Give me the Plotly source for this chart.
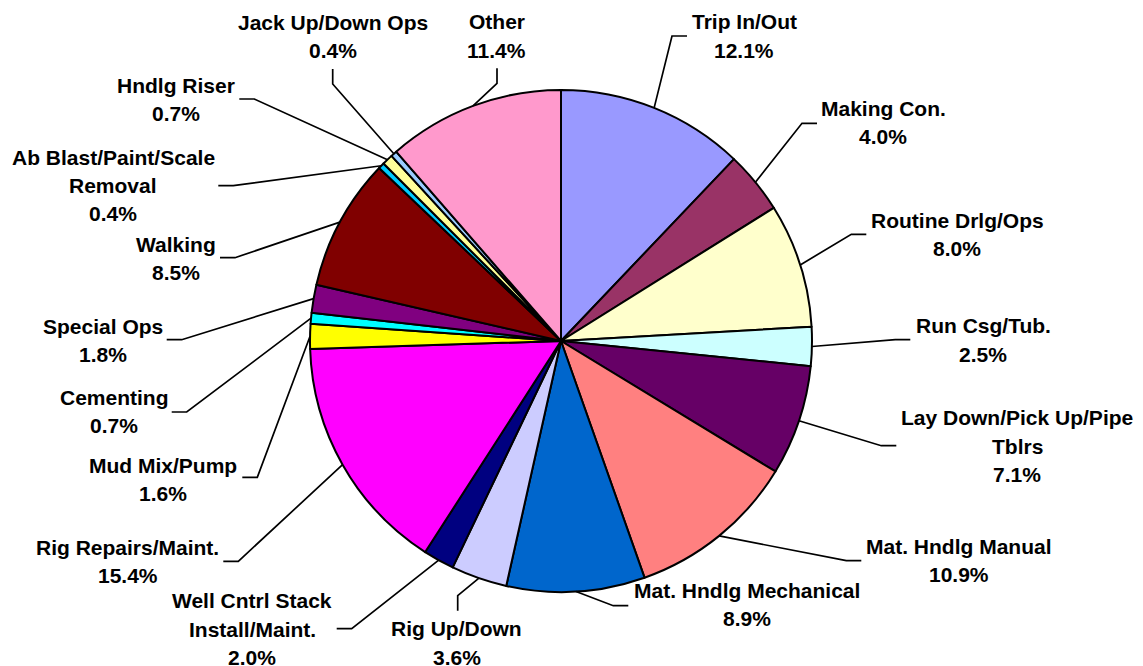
import math
import plotly.graph_objects as go

# ---------------- data ----------------
categories = [
    "Trip In/Out", "Making Con.", "Routine Drlg/Ops", "Run Csg/Tub.",
    "Lay Down/Pick Up/Pipe Tblrs", "Mat. Hndlg Manual", "Mat. Hndlg Mechanical",
    "Rig Up/Down", "Well Cntrl Stack Install/Maint.", "Rig Repairs/Maint.",
    "Mud Mix/Pump", "Cementing", "Special Ops", "Walking",
    "Ab Blast/Paint/Scale Removal", "Hndlg Riser", "Jack Up/Down Ops", "Other",
]
values = [12.1, 4.0, 8.0, 2.5, 7.1, 10.9, 8.9, 3.6, 2.0, 15.4,
          1.6, 0.7, 1.8, 8.5, 0.4, 0.7, 0.4, 11.4]
label_lines = [
    ["Trip In/Out"], ["Making Con."], ["Routine Drlg/Ops"], ["Run Csg/Tub."],
    ["Lay Down/Pick Up/Pipe", "Tblrs"], ["Mat. Hndlg Manual"], ["Mat. Hndlg Mechanical"],
    ["Rig Up/Down"], ["Well Cntrl Stack", "Install/Maint."], ["Rig Repairs/Maint."],
    ["Mud Mix/Pump"], ["Cementing"], ["Special Ops"], ["Walking"],
    ["Ab Blast/Paint/Scale", "Removal"], ["Hndlg Riser"], ["Jack Up/Down Ops"], ["Other"],
]
colors = [
    "#9999FF", "#993366", "#FFFFCC", "#CCFFFF", "#660066", "#FF8080", "#0066CC",
    "#CCCCFF", "#000080", "#FF00FF", "#FFFF00", "#00FFFF", "#800080", "#800000",
    "#00CCFF", "#FFFF99", "#99CCFF", "#FF99CC",
]

# ---------------- layout (pixels) ----------------
W, H = 1143, 666
CX, CY, R = 561, 341, 251
FONT = "Arial, Liberation Sans, sans-serif"
FS = 21
LINE_H = 28.3
ELBOW = 15
# label block centre (tx, ty), side of label relative to leader, attach point (ax, ay)
label_pos = [
    (744.0, 36.0, "R", 687.0, 36.0),
    (883.3, 122.5, "R", 817.0, 123.3),
    (957.0, 234.2, "R", 866.3, 234.3),
    (983.3, 340.0, "R", 910.3, 339.7),
    (1017.2, 446.3, "R", 896.3, 445.7),
    (958.8, 560.2, "R", 861.3, 560.7),
    (746.5, 604.7, "R", 628.3, 605.7),
    (456.8, 643.0, "B", 457.7, 610.7),
    (252.0, 629.0, "L", 336.7, 628.7),
    (127.5, 561.8, "L", 223.3, 561.3),
    (163.0, 479.7, "L", 242.3, 477.3),
    (114.0, 411.7, "L", 171.7, 412.0),
    (103.0, 340.5, "L", 166.7, 339.7),
    (176.0, 258.5, "L", 220.0, 257.7),
    (113.0, 185.7, "L", 218.3, 185.7),
    (176.0, 99.7, "L", 239.3, 99.0),
    (332.5, 36.7, "T", 332.7, 69.0),
    (496.5, 35.9, "T", 497.0, 68.3),
]


def px(x):
    return x / W


def py(y):
    return 1 - y / H


fig = go.Figure()
fig.add_trace(go.Pie(
    labels=categories,
    values=values,
    sort=False,
    direction="clockwise",
    rotation=0,
    marker=dict(colors=colors, line=dict(color="black", width=2)),
    textinfo="none",
    hoverinfo="label+percent",
    showlegend=False,
    domain=dict(x=[px(CX - R), px(CX + R)], y=[py(CY + R), py(CY - R)]),
))

total = sum(values)
cum = 0.0
shapes = []
annotations = []
for i, v in enumerate(values):
    mid = (cum + v / 2) / total * 2 * math.pi
    cum += v
    ex = CX + R * math.sin(mid)
    ey = CY - R * math.cos(mid)
    tx, ty, side, ax, ay = label_pos[i]
    if side == "R":
        kx, ky = ax - ELBOW, ay
    elif side == "L":
        kx, ky = ax + ELBOW, ay
    elif side == "T":
        kx, ky = ax, ay + ELBOW
    else:
        kx, ky = ax, ay - ELBOW
    path = f"M {px(ax)},{py(ay)} L {px(kx)},{py(ky)} L {px(ex)},{py(ey)}"
    shapes.append(dict(type="path", path=path, xref="paper", yref="paper",
                       line=dict(color="black", width=1.7), layer="above"))
    lines = label_lines[i] + [f"{v:.1f}%"]
    n = len(lines)
    for j, t in enumerate(lines):
        yy = ty + (j - (n - 1) / 2) * LINE_H
        annotations.append(dict(
            x=px(tx), y=py(yy), xref="paper", yref="paper",
            text=f"<b>{t}</b>", showarrow=False,
            xanchor="center", yanchor="middle", borderpad=0,
            font=dict(family=FONT, size=FS, color="black"),
        ))

fig.update_layout(
    width=W, height=H,
    margin=dict(l=0, r=0, t=0, b=0),
    paper_bgcolor="white",
    plot_bgcolor="white",
    shapes=shapes,
    annotations=annotations,
)

fig.write_html(
    "out.html",
    config={"displayModeBar": False},
    post_script="document.body.style.margin='0';document.body.style.padding='0';"
                "document.body.style.overflow='hidden';",
)
